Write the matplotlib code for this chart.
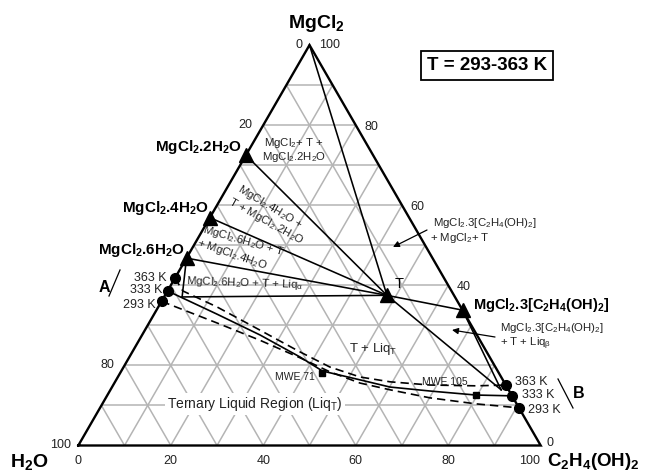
import numpy as np
import matplotlib
matplotlib.use('Agg')
import matplotlib.pyplot as plt

plt.rcParams['font.family'] = ['Liberation Sans', 'DejaVu Sans']
plt.rcParams['mathtext.fontset'] = 'custom'
plt.rcParams['mathtext.rm'] = 'Liberation Sans'
plt.rcParams['mathtext.it'] = 'Liberation Sans:italic'
plt.rcParams['mathtext.bf'] = 'Liberation Sans:bold'
plt.rcParams['mathtext.default'] = 'regular'

# ---------------- data: wt% (MgCl2, C2H4(OH)2); H2O = remainder ----------------
apex = (100.0, 0.0)
hydrate_names = ['MgCl$_2$.2H$_2$O', 'MgCl$_2$.4H$_2$O', 'MgCl$_2$.6H$_2$O']
hydrate_mgcl2 = [72.5, 56.9, 46.8]
glycolate_name = 'MgCl$_2$.3[C$_2$H$_4$(OH)$_2$]'
glycolate = (33.8, 66.2)
T_point = (37.5, 48.0)
alpha_point = (37.1, 3.9)
beta_point = (13.9, 84.5)

temps = ['363 K', '333 K', '293 K']
A_mgcl2 = [41.8, 38.6, 36.0]          # on the H2O-MgCl2 side
B_mgcl2 = [15.1, 12.4, 9.4]           # on the glycol-MgCl2 side

curve_363_m = [41.8, 38.6, 34.6, 28.8, 23.4, 19.6, 17.1, 15.9, 15.1, 14.9, 15.1]
curve_363_g = [0.0, 3.3, 12.7, 24.9, 36.2, 44.6, 52.4, 59.5, 68.5, 78.6, 84.9]
curve_333_m = [38.6, 32.8, 27.6, 22.1, 18.6, 16.4, 14.6, 13.6, 12.6, 12.4]
curve_333_g = [0.0, 13.6, 25.5, 36.9, 43.5, 52.7, 60.1, 69.3, 79.7, 87.6]
curve_293_m = [36.0, 30.6, 26.3, 21.9, 18.4, 15.6, 13.9, 11.9, 10.4, 9.4]
curve_293_g = [0.0, 14.7, 26.1, 37.0, 45.2, 53.1, 60.5, 70.1, 80.8, 90.6]

mwe_names = ['MWE 71', 'MWE 105']
mwe_m = [18.1, 12.6]
mwe_g = [43.7, 79.7]

bottom_ticks = [0, 20, 40, 60, 80, 100]   # C2H4(OH)2
left_ticks = [100, 80, 20]                # H2O
right_ticks = [80, 60, 40, 0]             # MgCl2

S3 = np.sqrt(3) / 2


def xy(m, g):
    m = np.asarray(m, float)
    g = np.asarray(g, float)
    return g + m / 2, m * S3


def P(px, py):
    """layout helper: figure pixel -> data coords"""
    return (px - 78.3) / 4.624, (445.5 - py) / 4.624


fig = plt.figure(figsize=(6.57, 4.74), dpi=100)
ax = fig.add_axes([0, 0, 1, 1])
ax.set_xlim(P(0, 0)[0], P(657, 0)[0])
ax.set_ylim(P(0, 474)[1], P(0, 0)[1])
ax.axis('off')

# grid
gc = '#b4b4b4'
for k in range(10, 100, 10):
    for (m1, g1), (m2, g2) in [((k, 0), (k, 100 - k)),
                               ((0, k), (100 - k, k)),
                               ((0, 100 - k), (100 - k, 0))]:
        x, y = xy([m1, m2], [g1, g2])
        ax.plot(x, y, color=gc, lw=1.1, zorder=1, solid_capstyle='butt')

# triangle frame
x, y = xy([0, 0, 100, 0], [0, 100, 0, 0])
ax.plot(x, y, color='black', lw=1.7, zorder=3, solid_joinstyle='miter')

# tie lines
ties = [(apex, T_point),
        ((hydrate_mgcl2[0], 0), T_point),
        ((hydrate_mgcl2[1], 0), T_point),
        ((hydrate_mgcl2[2], 0), T_point),
        ((hydrate_mgcl2[2], 0), alpha_point),
        (alpha_point, T_point),
        (T_point, glycolate),
        (T_point, beta_point),
        (glycolate, beta_point)]
for p, q in ties:
    x, y = xy([p[0], q[0]], [p[1], q[1]])
    ax.plot(x, y, color='black', lw=1.15, zorder=3)

# solubility curves
x, y = xy(curve_363_m, curve_363_g)
ax.plot(x, y, color='black', lw=1.2, ls=(0, (5, 3)), zorder=3)
x, y = xy(curve_333_m, curve_333_g)
ax.plot(x, y, color='black', lw=1.2, zorder=3)
x, y = xy(curve_293_m, curve_293_g)
ax.plot(x, y, color='black', lw=1.2, ls=(0, (5, 3)), zorder=3)

# markers
x, y = xy(hydrate_mgcl2 + [glycolate[0], T_point[0]],
          [0, 0, 0, glycolate[1], T_point[1]])
ax.plot(x, y, '^', color='black', ms=10.5, zorder=5)
x, y = xy(A_mgcl2, [0, 0, 0])
ax.plot(x, y, 'o', color='black', ms=7, zorder=5)
x, y = xy(B_mgcl2, [100 - v for v in B_mgcl2])
ax.plot(x, y, 'o', color='black', ms=7, zorder=5)
x, y = xy(mwe_m, mwe_g)
ax.plot(x, y, 's', color='black', ms=4.5, zorder=5)

# tick labels
tk = dict(fontsize=9, color='#222222', ha='center', va='baseline')
for t in bottom_ticks:
    dx = -10.7 if t == 100 else 0
    ax.annotate(str(t), xy(0, t), xytext=(dx * 0.72, -18.5 * 0.72),
                textcoords='offset points', **tk)
for t in left_ticks:
    ax.annotate(str(t), xy(100 - t, 0), xytext=(-17.5 * 0.72, -3 * 0.72),
                textcoords='offset points', **tk)
for t in right_ticks:
    off = (9.3, 0) if t == 0 else (15.5, 4.5)
    ax.annotate(str(t), xy(t, 100 - t), xytext=(off[0] * 0.72, -off[1] * 0.72),
                textcoords='offset points', **tk)
ax.annotate('0', xy(100, 0), xytext=(-11 * 0.72, -2.6 * 0.72),
            textcoords='offset points', **tk)
ax.annotate('100', xy(100, 0), xytext=(20 * 0.72, -2.6 * 0.72),
            textcoords='offset points', **tk)

# component labels
bold = dict(fontweight='bold', color='black', va='baseline', ha='left')
ax.text(*P(288, 28), 'MgCl$_2$', fontsize=14, **bold)
ax.text(*P(10, 467), 'H$_2$O', fontsize=14, **bold)
ax.text(*P(547, 466), 'C$_2$H$_4$(OH)$_2$', fontsize=13.5, **bold)
ax.text(*P(155, 150.7), hydrate_names[0], fontsize=11, **bold)
ax.text(*P(121.7, 212.3), hydrate_names[1], fontsize=11, **bold)
ax.text(*P(98.3, 254), hydrate_names[2], fontsize=11, **bold)
ax.text(*P(473.3, 309.3), glycolate_name, fontsize=10.5, **bold)
ax.text(*P(395, 288.3), 'T', fontsize=10.5, ha='left', va='baseline')

ax.text(*P(426.7, 70), 'T = 293-363 K', fontsize=13.5, fontweight='bold',
        ha='left', va='baseline',
        bbox=dict(boxstyle='square,pad=0.32', fc='white', ec='black', lw=1.3))

# temperature labels
ax.text(*P(98.3, 291.7), 'A', fontsize=11.5, **bold)
ax.text(*P(573.3, 398.3), 'B', fontsize=11.5, **bold)
ax.plot(*zip(P(109, 296), P(120, 270)), color='black', lw=0.9)
ax.plot(*zip(P(558, 379), P(573, 408)), color='black', lw=0.9)
for lab, (px, py) in zip(temps, [(167, 280.7), (162, 293.3), (156, 308.5)]):
    ax.text(*P(px, py), lab, fontsize=9, ha='right', va='baseline', color='#222222')
for lab, (px, py) in zip(temps, [(515, 385), (522, 398.3), (528, 413)]):
    ax.text(*P(px, py), lab, fontsize=9, ha='left', va='baseline', color='#222222')

# region labels
rs = dict(fontsize=8.2, color='#222222')
ax.text(*P(294, 146), 'MgCl$_2$+ T +', ha='center', va='baseline', **rs)
ax.text(*P(294, 160.5), 'MgCl$_2$.2H$_2$O', ha='center', va='baseline', **rs)
ax.text(*P(270, 207), 'MgCl$_2$.4H$_2$O +', ha='center', va='center',
        rotation=-31, rotation_mode='anchor', **rs)
ax.text(*P(266, 221), 'T + MgCl$_2$.2H$_2$O', ha='center', va='center',
        rotation=-29, rotation_mode='anchor', **rs)
ax.text(*P(244, 241), 'MgCl$_2$.6H$_2$O + T', ha='center', va='center',
        rotation=-16, rotation_mode='anchor', **rs)
ax.text(*P(232, 254), '+ MgCl$_2$.4H$_2$O', ha='center', va='center',
        rotation=-19, rotation_mode='anchor', **rs)
ax.text(*P(245, 283), 'MgCl$_2$.6H$_2$O + T + Liq$_α$', ha='center', va='center',
        rotation=-2, rotation_mode='anchor', **rs)
ax.text(*P(349, 351.7), 'T + Liq$_T$', ha='left', va='baseline', fontsize=9.5,
        color='#222222')
ax.text(*P(167, 408.3), 'Ternary Liquid Region (Liq$_T$)', ha='left', va='baseline',
        fontsize=10, color='#222222',
        bbox=dict(boxstyle='square,pad=0.15', fc='white', ec='none'), zorder=4)
ax.text(*P(275, 380), mwe_names[0], ha='left', va='baseline', fontsize=7.5,
        color='#222222')
ax.text(*P(421.7, 385), mwe_names[1], ha='left', va='baseline', fontsize=7.5,
        color='#222222')

ax.text(*P(433, 226.2), glycolate_name, ha='left', va='baseline', **rs)
ax.text(*P(430, 241.5), '+ MgCl$_2$+ T', ha='left', va='baseline', **rs)
ax.text(*P(500, 331.2), glycolate_name, ha='left', va='baseline', **rs)
ax.text(*P(500, 346), '+ T + Liq$_β$', ha='left', va='baseline', **rs)

ap = dict(arrowstyle='-|>', lw=0.9, color='black', mutation_scale=9,
          shrinkA=0, shrinkB=0)
ax.annotate('', xy=P(393, 247), xytext=P(427, 230), arrowprops=ap)
ax.annotate('', xy=P(452, 330), xytext=P(495, 337), arrowprops=ap)

fig.savefig('out.png', dpi=100)
